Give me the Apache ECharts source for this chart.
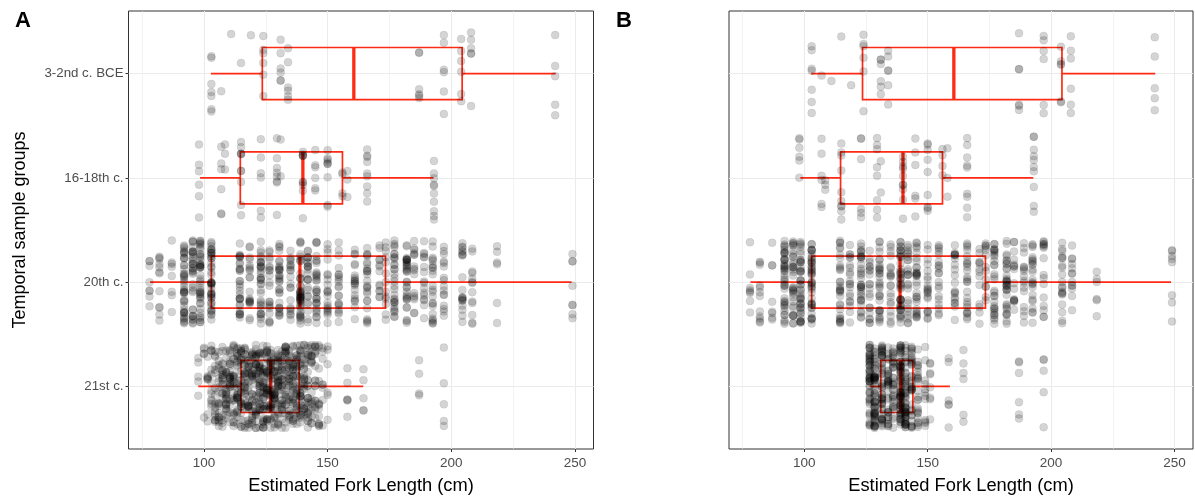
<!DOCTYPE html>
<html><head><meta charset="utf-8">
<script src="https://cdn.jsdelivr.net/npm/echarts@6/dist/echarts.min.js"></script>
<style>html,body{margin:0;padding:0;background:#fff}#c{width:1195px;height:500px}</style>
</head><body><div id="c"></div>
<script>
// ---------- data ----------
const categories = ['21st c.', '20th c.', '16-18th c.', '3-2nd c. BCE'];
const xTicks = [100, 150, 200, 250];
const xMinorTicks = [75, 125, 175, 225];

// 3-2nd c. BCE (same in A and B)
const bceLen = [103, 107, 111, 115, 119, 124, 131, 134, 187, 197, 204, 208, 242];
const bceN   = [7, 1, 1, 1, 1, 6, 6, 6, 6, 6, 6, 6, 5];
// 16-18th c. (same in A and B)
const c1618Len = [98, 107, 108.5, 115, 123, 129.5, 131, 140, 145, 150, 156, 158, 166, 193];
const c1618N   = [6, 6, 3, 10, 6, 8, 2, 10, 6, 9, 4, 3, 9, 10];
// 20th c. (same in A and B)
const c20Len = [78, 82, 87, 92, 95.5, 98.5, 103, 114.5, 118.5, 123, 126.5, 130.5, 135, 139, 142, 145.5, 150, 154.5, 161, 166, 171, 173.5, 177, 182, 185, 189, 192.5, 197, 204.5, 208.5, 218.5, 249];
const c20N   = [8, 12, 8, 42, 34, 42, 42, 30, 20, 33, 20, 30, 20, 42, 24, 30, 20, 20, 20, 24, 13, 13, 30, 33, 16, 16, 23, 16, 20, 13, 6, 8];
// 21st c. panel A
const c21ALen = [97.7, 100, 101.5, 103, 104.5, 106, 107.5, 109, 110.5, 112, 113.5, 115, 116.5, 118, 119.5, 121, 122.5, 124, 125.5, 127, 128.5, 130, 131.5, 133, 134.5, 136, 137.5, 139, 140.5, 142, 143.5, 145, 146.5, 148, 150, 158, 164.5, 187, 197];
const c21AN   = [5, 5, 8, 13, 16, 18, 21, 23, 23, 23, 26, 26, 26, 26, 26, 29, 31, 31, 31, 31, 29, 29, 26, 26, 26, 26, 26, 26, 23, 23, 18, 16, 13, 8, 6, 6, 5, 4, 5];
// 21st c. panel B
const c21BLen = [126.5, 128.5, 131.5, 134, 136, 139, 141, 143.5, 146, 149, 151, 158.5, 164.5, 187, 197];
const c21BN   = [50, 58, 50, 33, 33, 66, 50, 33, 24, 12, 8, 6, 6, 6, 5];

// box statistics [whisker low, Q1, median, Q3, whisker high], one row per category (bottom to top)
const boxA = [
  [97.7, 115, 127, 138.5, 164.4],
  [78.2, 103, 138.8, 173.4, 248.6],
  [98.4, 114.7, 140, 156, 192.8],
  [102.8, 123.6, 160.6, 204.4, 242.2]
];
const boxB = [
  [126.5, 131, 139.1, 144, 159],
  [78.2, 103, 138.8, 173.4, 248.6],
  [98.4, 114.7, 140, 156, 192.8],
  [102.8, 123.6, 160.6, 204.4, 242.2]
];

// ---------- building ----------
const RED = '#ff2a14';
const groupsA = [[c21ALen, c21AN], [c20Len, c20N], [c1618Len, c1618N], [bceLen, bceN]];
const groupsB = [[c21BLen, c21BN], [c20Len, c20N], [c1618Len, c1618N], [bceLen, bceN]];

// vertical jitter offset only (like geom_jitter, height 0.4); deterministic integer hash of the point index
function jit(i, seed) {
  let h = (Math.imul(i + 1, 0x9E3779B1) ^ Math.imul(seed, 0x85EBCA6B)) >>> 0;
  h ^= h >>> 16; h = Math.imul(h, 0x45D9F3B) >>> 0;
  h ^= h >>> 16; h = Math.imul(h, 0x45D9F3B) >>> 0;
  h ^= h >>> 16;
  return (h >>> 0) / 4294967296;
}
function buildPoints(groups, seed) {
  const pts = [];
  let idx = 0;
  groups.forEach((g, gi) => {
    const lens = g[0], ns = g[1];
    lens.forEach((v, j) => {
      for (let k = 0; k < ns[j]; k++) {
        idx++;
        pts.push([v, gi + 1 + (jit(idx, seed) - 0.5) * 0.8]);
      }
    });
  });
  return pts;
}
function boxData(stats) { return stats.map((s, i) => [i + 1].concat(s)); }

function renderBox(params, api) {
  const y = api.value(0);
  const pMin = api.coord([api.value(1), y]);
  const pQ1 = api.coord([api.value(2), y]);
  const pMd = api.coord([api.value(3), y]);
  const pQ3 = api.coord([api.value(4), y]);
  const pMax = api.coord([api.value(5), y]);
  const h = api.size([0, 0.5])[1];
  const top = pMd[1] - h / 2;
  const st = { stroke: RED, lineWidth: 1.7, fill: null };
  return { type: 'group', children: [
    { type: 'line', shape: { x1: pMin[0], y1: pMin[1], x2: pQ1[0], y2: pQ1[1] }, style: { stroke: RED, lineWidth: 1.7 } },
    { type: 'line', shape: { x1: pQ3[0], y1: pQ3[1], x2: pMax[0], y2: pMax[1] }, style: { stroke: RED, lineWidth: 1.7 } },
    { type: 'rect', shape: { x: pQ1[0], y: top, width: pQ3[0] - pQ1[0], height: h }, style: st },
    { type: 'line', shape: { x1: pMd[0], y1: top, x2: pMd[0], y2: top + h }, style: { stroke: RED, lineWidth: 3.3 } }
  ]};
}

const FONT = 'Liberation Sans, Arial, sans-serif';
function gridLineSeries(idx) {
  const data = [];
  xMinorTicks.forEach(v => data.push({ xAxis: v, lineStyle: { width: 0.6 } }));
  xTicks.forEach(v => data.push({ xAxis: v, lineStyle: { width: 1.1 } }));
  categories.forEach((c, i) => data.push({ yAxis: i + 1, lineStyle: { width: 1.1 } }));
  return {
    type: 'scatter', xAxisIndex: idx, yAxisIndex: idx, data: [], z: 0, silent: true,
    markLine: { z: 0, silent: true, symbol: 'none', animation: false, label: { show: false },
      lineStyle: { color: '#ebebeb', type: 'solid' }, data: data }
  };
}
function xAxisDef(idx) {
  return {
    type: 'value', gridIndex: idx, min: 69.5, max: 257.5,
    axisLine: { show: false }, splitLine: { show: false },
    axisTick: { show: true, customValues: xTicks, length: 3, lineStyle: { color: '#333', width: 1 } },
    axisLabel: { customValues: xTicks, color: '#4d4d4d', fontSize: 13.5, margin: 7, fontFamily: FONT },
    name: 'Estimated Fork Length (cm)', nameLocation: 'middle', nameGap: 28,
    nameTextStyle: { fontSize: 18.3, color: '#000', fontFamily: FONT }
  };
}
function yAxisDef(idx, withLabels) {
  return {
    type: 'value', gridIndex: idx, min: 0.4, max: 4.6,
    axisLine: { show: false }, splitLine: { show: false },
    axisTick: { show: withLabels, customValues: [1, 2, 3, 4], length: 3, lineStyle: { color: '#333', width: 1 } },
    axisLabel: { show: withLabels, customValues: [1, 2, 3, 4], color: '#4d4d4d', fontSize: 13.3, margin: 5, fontFamily: FONT,
      formatter: v => categories[Math.round(v) - 1] },
    name: withLabels ? 'Temporal sample groups' : '', nameLocation: 'middle', nameGap: 99,
    nameTextStyle: { fontSize: 18, color: '#000', fontFamily: FONT }
  };
}
function pointSeries(idx, pts) {
  return { type: 'scatter', xAxisIndex: idx, yAxisIndex: idx, data: pts, z: 3, silent: true,
    symbolSize: 8, itemStyle: { color: 'rgba(0,0,0,0.21)', borderColor: 'rgba(0,0,0,0.14)', borderWidth: 0.6 } };
}
function boxSeries(idx, stats) {
  return { type: 'custom', xAxisIndex: idx, yAxisIndex: idx, data: boxData(stats), z: 2, silent: true,
    encode: { x: [1, 2, 3, 4, 5], y: 0 }, renderItem: renderBox };
}

const chart = echarts.init(document.getElementById('c'));
chart.setOption({
  animation: false,
  backgroundColor: '#fff',
  title: [
    { text: 'A', left: 10, top: 5, textStyle: { fontSize: 22, fontWeight: 'bold', color: '#000', fontFamily: FONT } },
    { text: 'B', left: 611, top: 5, textStyle: { fontSize: 22, fontWeight: 'bold', color: '#000', fontFamily: FONT } }
  ],
  grid: [
    { left: 128.5, top: 11, width: 465, height: 439, show: true, borderColor: '#333', borderWidth: 1, backgroundColor: 'transparent' },
    { left: 729, top: 11, width: 464, height: 439, show: true, borderColor: '#333', borderWidth: 1, backgroundColor: 'transparent' }
  ],
  xAxis: [xAxisDef(0), xAxisDef(1)],
  yAxis: [yAxisDef(0, true), yAxisDef(1, false)],
  series: [
    gridLineSeries(0), boxSeries(0, boxA), pointSeries(0, buildPoints(groupsA, 13)),
    gridLineSeries(1), boxSeries(1, boxB), pointSeries(1, buildPoints(groupsB, 58))
  ]
});
</script></body></html>
